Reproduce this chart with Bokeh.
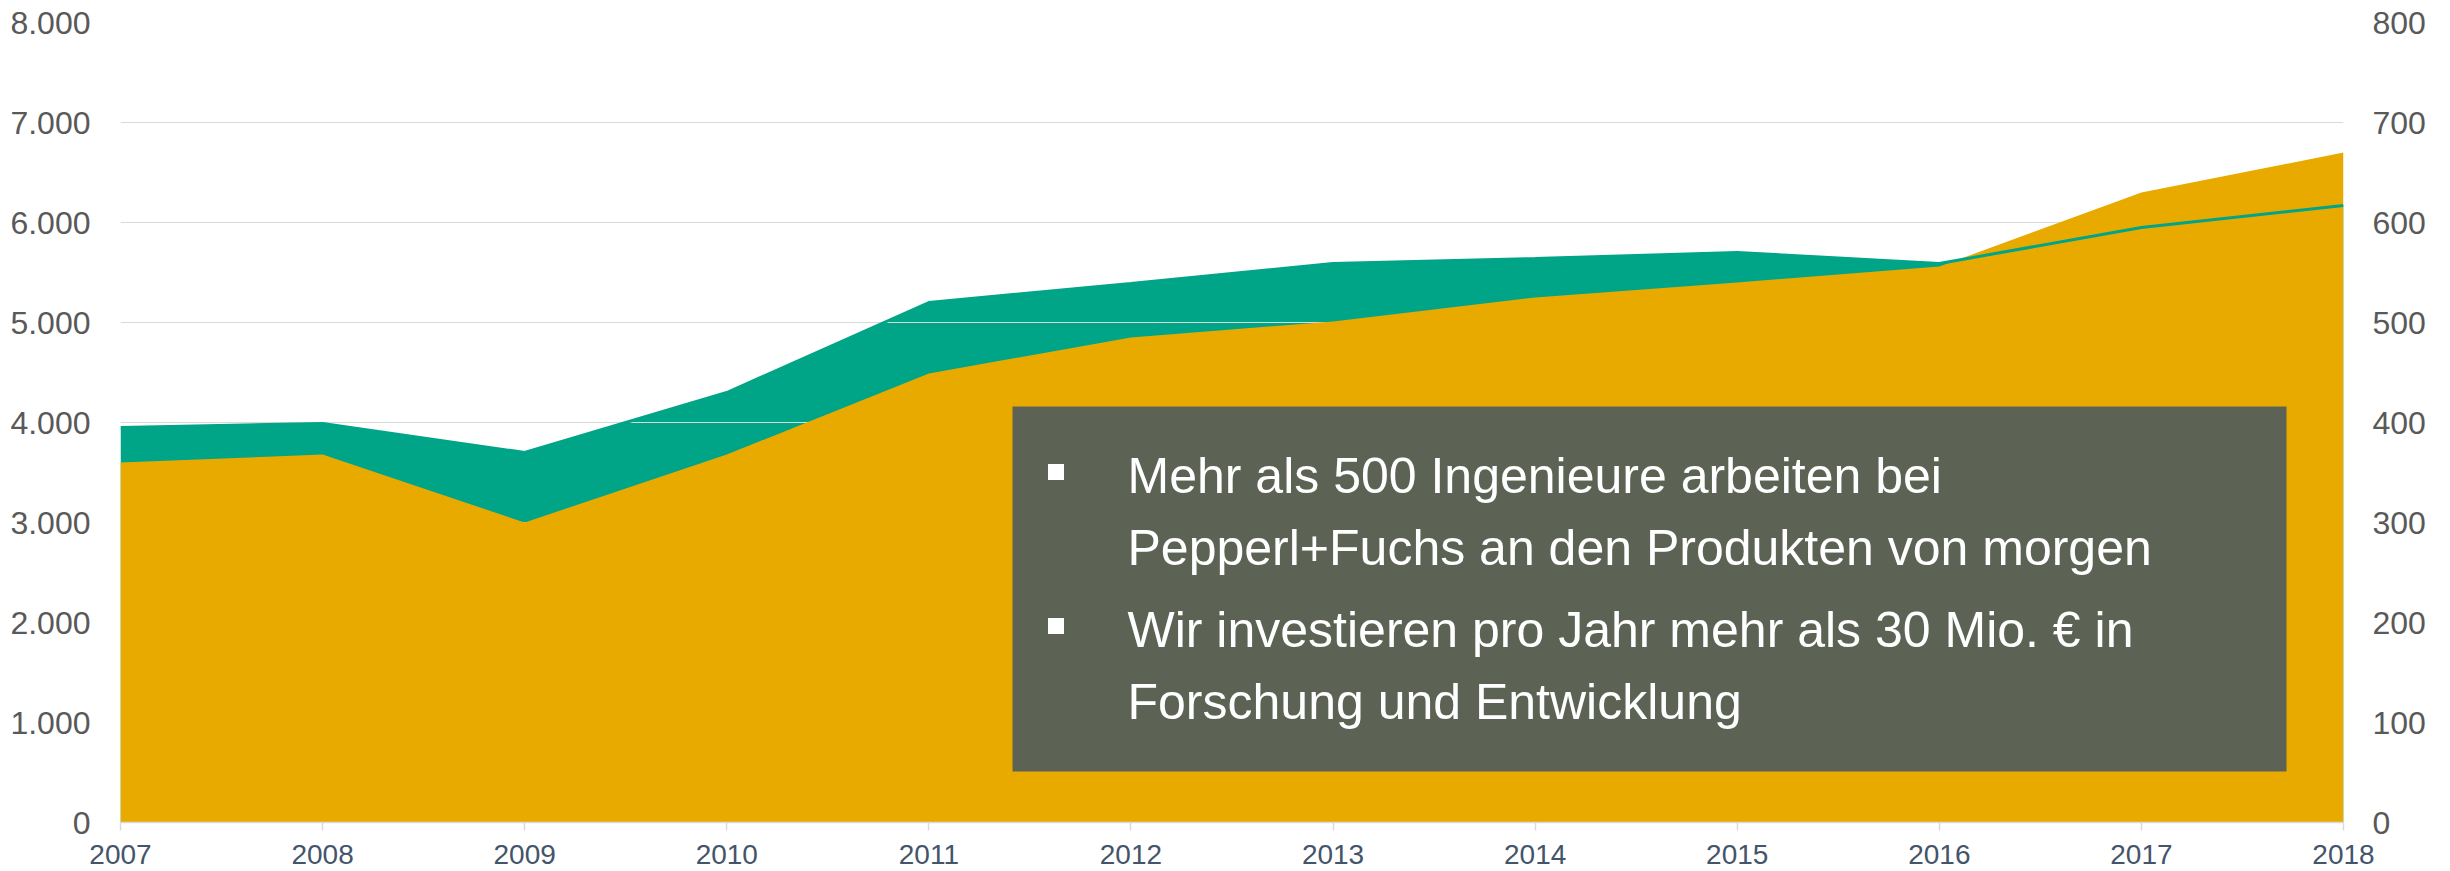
from bokeh.plotting import figure
from bokeh.models import Range1d, LinearAxis, FixedTicker, ColumnDataSource
from bokeh.core.properties import value
from bokeh.embed import file_html
from bokeh.resources import INLINE

# ---- data ----
years = [2007, 2008, 2009, 2010, 2011, 2012, 2013, 2014, 2015, 2016, 2017, 2018]
mitarbeiter = [3950, 3990, 3700, 4300, 5200, 5390, 5590, 5640, 5700, 5590, 5950, 6170]   # left axis
fue_werte = [360, 368, 300, 368, 449, 485, 501, 525, 540, 556, 630, 670]                 # right axis
left_ticks = [0, 1000, 2000, 3000, 4000, 5000, 6000, 7000, 8000]
left_tick_labels = ["0", "1.000", "2.000", "3.000", "4.000", "5.000", "6.000", "7.000", "8.000"]
right_ticks = [0, 100, 200, 300, 400, 500, 600, 700, 800]
right_tick_labels = ["0", "100", "200", "300", "400", "500", "600", "700", "800"]
x_tick_labels = ["2007", "2008", "2009", "2010", "2011", "2012", "2013", "2014", "2015", "2016", "2017", "2018"]
text_lines = [
    "Mehr als 500 Ingenieure arbeiten bei",
    "Pepperl+Fuchs an den Produkten von morgen",
    "Wir investieren pro Jahr mehr als 30 Mio. € in",
    "Forschung und Entwicklung",
]

# ---- layout / style constants ----
TEAL = "#00A487"
ORANGE = "#E9AA00"
BOX = "#5C6254"
FONT = "Liberation Sans"

box_left, box_right, box_top, box_bottom = 2011.414, 2017.718, 4160, 510
text_x = 2011.983
text_y = [3470, 2750, 1930, 1210]
bullet_x = 2011.629
bullet_y = [3505, 1965]

p = figure(width=2450, height=871, output_backend="svg", toolbar_location=None,
           x_range=Range1d(years[0], years[-1]), y_range=Range1d(0, 8000),
           min_border_left=120, min_border_right=107, min_border_top=22, min_border_bottom=49)
p.outline_line_color = None
p.background_fill_color = "white"
p.border_fill_color = "white"
p.extra_y_ranges = {"right": Range1d(0, 800)}

# areas
p.varea(x=years, y1=[0] * len(years), y2=mitarbeiter, fill_color=TEAL, level="underlay")
p.varea(x=years, y1=[0] * len(fue_werte), y2=fue_werte, fill_color=ORANGE, y_range_name="right")
p.line(x=years, y=mitarbeiter, line_color=TEAL, line_width=3)

# text box
p.quad(left=[box_left], right=[box_right], top=[box_top], bottom=[box_bottom],
       fill_color=BOX, line_color=None)
p.scatter(x=[bullet_x] * len(bullet_y), y=bullet_y, marker="square", size=16,
          fill_color="white", line_color=None)
src = ColumnDataSource(dict(x=[text_x] * len(text_lines), y=text_y, t=text_lines))
p.text(x="x", y="y", text="t", source=src, text_color="white", text_font=value(FONT),
       text_font_size="50px", text_baseline="alphabetic", text_align="left")

# grid
p.xgrid.grid_line_color = None
p.ygrid.grid_line_color = "#D9D9D9"
p.ygrid.grid_line_width = 1
p.ygrid.ticker = FixedTicker(ticks=left_ticks)

# x axis
xa = p.xaxis[0]
xa.ticker = FixedTicker(ticks=years)
xa.major_label_overrides = {y: l for y, l in zip(years, x_tick_labels)}
xa.axis_line_color = "#D9D9D9"
xa.axis_line_width = 1.5
xa.major_tick_line_color = "#D9D9D9"
xa.major_tick_line_width = 1.5
xa.major_tick_out = 8
xa.major_tick_in = 0
xa.minor_tick_line_color = None
xa.major_label_standoff = 14
xa.major_label_text_font = FONT
xa.major_label_text_font_size = "28px"
xa.major_label_text_line_height = 0.8
xa.major_label_text_color = "#44546A"

# left axis
ya = p.yaxis[0]
ya.ticker = FixedTicker(ticks=left_ticks)
ya.major_label_overrides = {t: l for t, l in zip(left_ticks, left_tick_labels)}
ya.axis_line_color = None
ya.major_tick_line_color = None
ya.minor_tick_line_color = None
ya.major_tick_out = 0
ya.major_tick_in = 0
ya.major_label_standoff = 30
ya.major_label_text_font = FONT
ya.major_label_text_font_size = "32px"
ya.major_label_text_color = "#595959"

# right axis
ra = LinearAxis(y_range_name="right", ticker=FixedTicker(ticks=right_ticks))
ra.major_label_overrides = {t: l for t, l in zip(right_ticks, right_tick_labels)}
ra.axis_line_color = None
ra.major_tick_line_color = None
ra.minor_tick_line_color = None
ra.major_tick_out = 0
ra.major_tick_in = 0
ra.major_label_standoff = 29
ra.major_label_text_font = FONT
ra.major_label_text_font_size = "32px"
ra.major_label_text_color = "#595959"
p.add_layout(ra, "right")

open("out.html", "w").write(file_html(p, INLINE))
